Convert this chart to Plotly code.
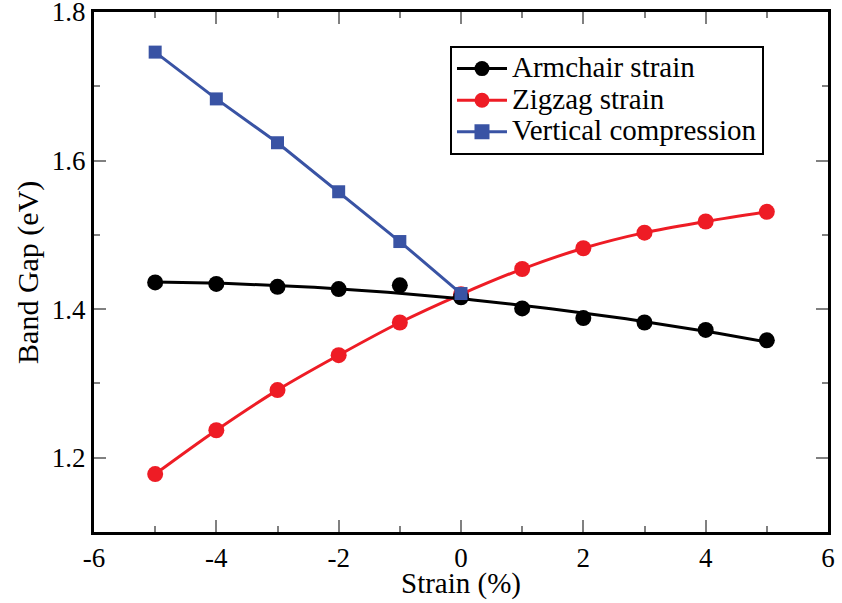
import numpy as np
import plotly.graph_objects as go

strain = [-5, -4, -3, -2, -1, 0, 1, 2, 3, 4, 5]
armchair = [1.436, 1.434, 1.430, 1.427, 1.432, 1.416, 1.401, 1.388, 1.382, 1.372, 1.358]
zigzag = [1.178, 1.237, 1.291, 1.338, 1.382, 1.420, 1.454, 1.482, 1.503, 1.518, 1.531]
vert_strain = [-5, -4, -3, -2, -1, 0]
vertical = [1.746, 1.683, 1.624, 1.558, 1.491, 1.421]

x_ticks = [-6, -4, -2, 0, 2, 4, 6]
x_ticktext = ["-6", "-4", "-2", "0", "2", "4", "6"]
y_ticks = [1.2, 1.4, 1.6, 1.8]
y_ticktext = ["1.2", "1.4", "1.6", "1.8"]

x_title = "Strain (%)"
y_title = "Band Gap (eV)"
names = ["Armchair strain", "Zigzag strain", "Vertical compression"]
BLACK, RED, BLUE = "#000000", "#ee1c25", "#3953a4"
FONT = "Liberation Serif"

# smooth quadratic fit for the armchair line
coef = np.polyfit(strain, armchair, 2)
xf = np.linspace(-5, 5, 101)
yf = np.polyval(coef, xf)

fig = go.Figure()
fig.add_trace(go.Scatter(x=strain, y=zigzag, mode="lines+markers", line_shape="spline",
                         line=dict(color=RED, width=3),
                         marker=dict(symbol="circle", size=16, color=RED),
                         showlegend=False))
fig.add_trace(go.Scatter(x=xf, y=yf, mode="lines",
                         line=dict(color=BLACK, width=3), showlegend=False))
fig.add_trace(go.Scatter(x=strain, y=armchair, mode="markers",
                         marker=dict(symbol="circle", size=16, color=BLACK),
                         showlegend=False))
fig.add_trace(go.Scatter(x=vert_strain, y=vertical, mode="lines+markers",
                         line=dict(color=BLUE, width=3),
                         marker=dict(symbol="square", size=13, color=BLUE),
                         showlegend=False))

# legend entries (larger glyph text with compact row spacing)
for nm, col, sym in [(names[0], BLACK, "circle"), (names[1], RED, "circle"), (names[2], BLUE, "square")]:
    fig.add_trace(go.Scatter(x=[None], y=[None], mode="lines+markers",
                             name=f'<span style="font-size:29px">{nm}</span>',
                             line=dict(color=col, width=3),
                             marker=dict(symbol=sym, size=15, color=col)))

axis_common = dict(showline=True, linecolor="black", linewidth=3, mirror="allticks",
                   ticks="inside", ticklen=12, tickwidth=1.5, tickcolor="#808080",
                   showgrid=False, zeroline=False, automargin=False,
                   ticklabeloverflow="allow",
                   tickfont=dict(family=FONT, size=27, color="black"))

fig.update_xaxes(range=[-6, 6], tickmode="array", tickvals=x_ticks, ticktext=x_ticktext,
                 minor=dict(ticks="inside", ticklen=6, dtick=1, tickcolor="#808080", tickwidth=1.5),
                 **axis_common)
fig.update_yaxes(range=[1.1, 1.8], tickmode="array", tickvals=y_ticks, ticktext=y_ticktext,
                 minor=dict(ticks="inside", ticklen=6, dtick=0.1, tickcolor="#808080", tickwidth=1.5),
                 **axis_common)

fig.add_annotation(text=x_title, xref="paper", yref="paper", x=0.5, y=-0.099,
                   xanchor="center", yanchor="middle", showarrow=False,
                   font=dict(family=FONT, size=29, color="black"))
fig.add_annotation(text=y_title, xref="paper", yref="paper", x=-0.09, y=0.5,
                   xanchor="center", yanchor="middle", showarrow=False, textangle=-90,
                   font=dict(family=FONT, size=30, color="black"))

fig.update_layout(
    width=842, height=603,
    margin=dict(l=94, r=14, t=12, b=71),
    paper_bgcolor="white", plot_bgcolor="white",
    font=dict(family=FONT, color="black"),
    legend=dict(x=0.485, y=0.935, xanchor="left", yanchor="top",
                bordercolor="black", borderwidth=2, bgcolor="white",
                font=dict(family=FONT, size=22), tracegroupgap=0, itemwidth=50),
)

fig.write_html("out.html", config={"displayModeBar": False},
               post_script="document.body.style.margin='0';")
